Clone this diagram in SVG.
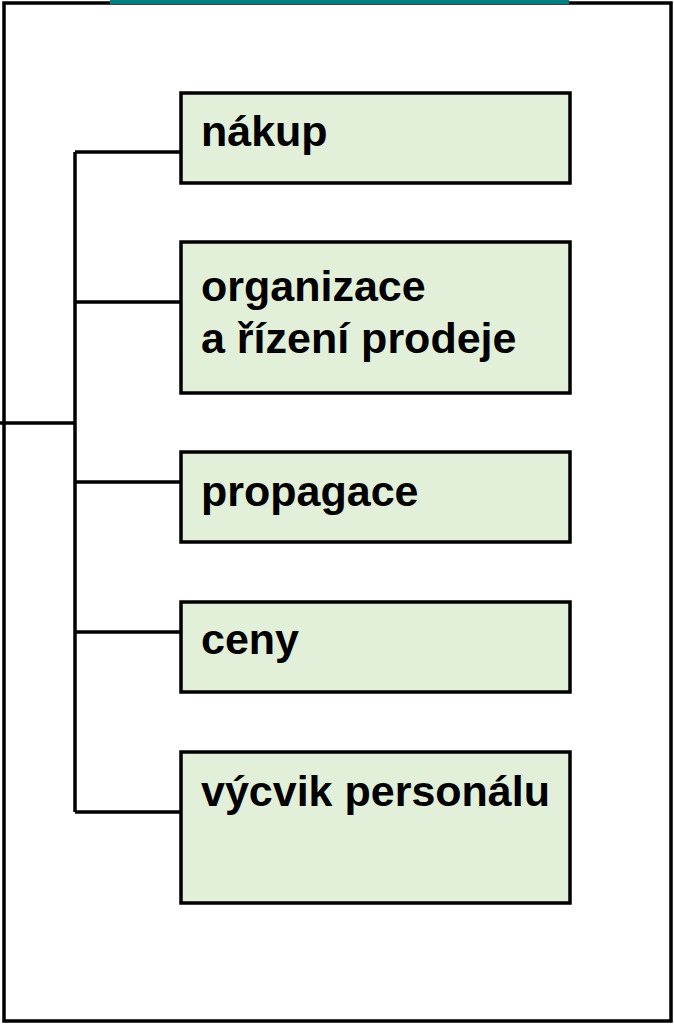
<svg xmlns="http://www.w3.org/2000/svg" width="674" height="1024" viewBox="0 0 674 1024">
<style>
.box{fill:#E2EFD9;stroke:#000;stroke-width:3.5}
.lbl{font-family:"Liberation Sans",Arial,sans-serif;font-weight:bold;font-size:43px;fill:#000}
.ln{stroke:#000;stroke-width:3.5;fill:none}
</style>
<rect x="0" y="0" width="674" height="1024" fill="#fff"/>
<rect id="frame" x="4" y="3" width="667" height="1018" fill="none" stroke="#000" stroke-width="3.5"/>
<rect x="110" y="0" width="459" height="4" fill="#008080"/>
<g id="connectors">
<line class="ln" x1="0" y1="423" x2="75" y2="423"/>
<line class="ln" x1="75" y1="152" x2="75" y2="812"/>
<line class="ln" x1="75" y1="152" x2="181" y2="152"/>
<line class="ln" x1="75" y1="302" x2="181" y2="302"/>
<line class="ln" x1="75" y1="482" x2="181" y2="482"/>
<line class="ln" x1="75" y1="632" x2="181" y2="632"/>
<line class="ln" x1="75" y1="812" x2="181" y2="812"/>
</g>
<g id="n1"><rect class="box" x="181" y="93" width="389" height="90"/><text class="lbl" x="201" y="146">nákup</text></g>
<g id="n2"><rect class="box" x="181" y="242" width="389" height="151"/><text class="lbl" x="201" y="301">organizace</text><text class="lbl" x="201" y="353">a řízení prodeje</text></g>
<g id="n3"><rect class="box" x="181" y="452" width="389" height="90"/><text class="lbl" x="201" y="506">propagace</text></g>
<g id="n4"><rect class="box" x="181" y="602" width="389" height="90"/><text class="lbl" x="201" y="654">ceny</text></g>
<g id="n5"><rect class="box" x="181" y="752" width="389" height="151"/><text class="lbl" x="201" y="806">výcvik personálu</text></g>
</svg>
